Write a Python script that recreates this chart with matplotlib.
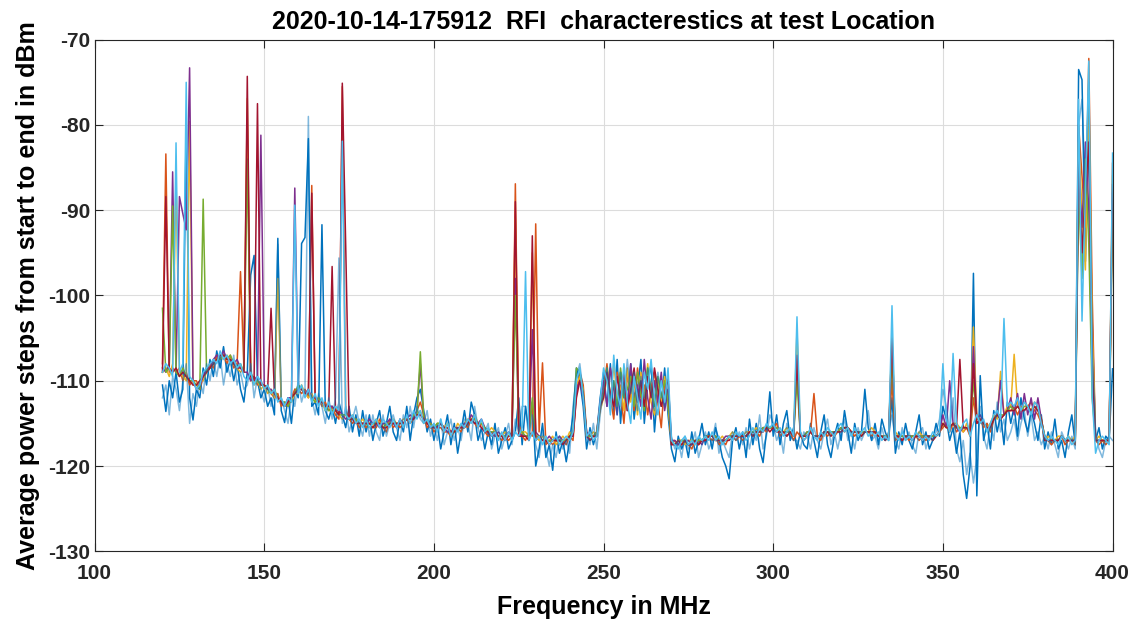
#!/usr/bin/env python3

import numpy as np
import matplotlib
matplotlib.use('Agg')
import matplotlib.pyplot as plt

# one sweep value per MHz, 120 .. 400 MHz
freq_start = 120
freq_stop = 400

sweep_blue = [
    -110.5, -113.6, -110, -112, -109, -112.5, -111, -79.6, -112, -114.6,
    -111, -112, -108.5, -110.5, -107.5, -109.5, -106.5, -108.5, -106, -109,
    -107.5, -110, -108, -111, -112.5, -109, -97.6, -95.3, -110, -112,
    -111, -113, -112, -114, -93.3, -113.5, -114.9, -112, -115, -111,
    -112, -93.9, -93.2, -81.6, -113, -112.5, -114, -91.7, -113.5, -114.5,
    -113, -115, -112.5, -114, -115.5, -113, -116, -114, -116.5, -113.5,
    -116, -114, -117, -115, -113.5, -116.5, -115, -113, -116, -117,
    -114.5, -116, -113, -117, -114, -112, -111, -113.5, -116, -114.5,
    -117, -115, -118, -116, -114, -117.5, -115, -118.5, -116, -113.5,
    -116, -112.5, -114, -117, -115.5, -118, -116, -117.5, -115, -118.5,
    -117, -115.5, -118, -117, -116, -112, -117.5, -113, -116, -112.5,
    -120, -118, -115, -119, -117.5, -120.5, -116, -118.5, -117, -119.5,
    -117, -114, -108.5, -110, -113, -118, -115.5, -117.5, -116, -112,
    -109, -113, -108, -114, -107.5, -115, -110, -113.5, -108, -114.5,
    -111, -107.5, -115, -110.5, -108, -116, -111, -113, -108.5, -114,
    -118, -119.5, -116.5, -118, -117, -119, -116, -118.5, -117, -115,
    -117.5, -116, -118, -115.5, -117, -119, -120, -121.5, -117, -115.5,
    -118, -116, -119, -114.5, -117.5, -115, -118, -119.6, -116, -111.3,
    -116.5, -114, -117.5, -115, -113.5, -117, -115.5, -118, -116, -117.5,
    -118, -115, -117, -119, -116, -114, -117.5, -119, -116.5, -115,
    -117, -113.5, -116, -118.5, -115, -117, -116, -111, -115.5, -117,
    -115, -117.5, -114.5, -116, -117, -112, -118.5, -116, -117.5, -115,
    -117, -118, -116, -114, -117.5, -116, -118, -117, -115, -116.5,
    -113, -114.5, -117, -115.5, -118.5, -116, -121, -123.8, -120, -97.4,
    -123.5, -109.4, -117, -115, -118, -113.5, -116, -114, -117.5, -112.5,
    -115, -113, -116.5, -112, -114.5, -116, -113.5, -115, -117, -114,
    -118, -116, -117.5, -114.5, -118, -117, -119, -116, -114, -117.5,
    -73.5, -74.7, -96, -81, -103, -117, -115.5, -118, -116.5, -117,
    -108.6,
]

sweep_orange = [
    -108, -83.4, -109, -108.5, -109, -108.5, -110, -109, -110.5, -110,
    -110, -111, -109.5, -109, -108, -108.5, -107, -107.5, -107, -108,
    -107, -108.5, -108, -97.2, -108.5, -80, -110, -109.5, -110.5, -110,
    -111, -110.5, -111.5, -112, -111.5, -113, -112.5, -113, -112, -111,
    -111, -111.5, -111, -112, -87.1, -112.5, -112, -113, -112.5, -113.5,
    -113, -114, -114.5, -75.5, -113.5, -114.5, -115, -114.5, -115.5, -115,
    -115.5, -115, -115.5, -115.5, -114.5, -115.5, -116, -114.5, -115.5, -115,
    -115.5, -115, -114.5, -115, -114.5, -113.5, -112.5, -114, -115.5, -115,
    -116, -115.5, -115.5, -116, -116, -116.5, -116, -115.5, -116, -115,
    -115.5, -114.5, -115, -115.5, -115, -116, -116.5, -116, -116.5, -116.5,
    -117, -116.5, -117, -116.5, -86.9, -115, -116.5, -117, -116, -116.5,
    -91.6, -116, -107.9, -117.5, -117, -117.5, -117, -117.5, -117, -117.5,
    -116.5, -117, -111.5, -109, -110.5, -116, -117, -116.5, -116, -113,
    -111, -108, -112, -114.5, -109, -111.5, -115, -109.5, -110, -113.5,
    -108.5, -112, -110.5, -114, -111, -109, -112.5, -115.5, -110, -112,
    -117.5, -117, -117.5, -117.5, -117, -117.5, -118, -117, -117.5, -117,
    -117, -116.5, -117, -116.5, -117.5, -117, -117.5, -116.5, -116.5, -117,
    -116.5, -117, -116.5, -116, -116.5, -116, -116.5, -115.5, -116, -115.5,
    -115.5, -115, -116.5, -116, -116.5, -116, -117, -116, -116.5, -117,
    -116.5, -116, -111.5, -116.5, -117, -116, -116.5, -116, -116.5, -116,
    -115.5, -116, -115.5, -116, -116.5, -116, -116.5, -116, -116, -116.5,
    -116, -116.5, -116.5, -117, -116.5, -110, -117, -116.5, -117, -116.5,
    -117, -116.5, -116.5, -117, -116.5, -117, -116.5, -117, -116.5, -116,
    -115.5, -115, -116, -115, -116, -115.5, -116, -115.5, -116.5, -112,
    -115, -114.5, -115.5, -115, -116, -114.5, -114, -114.5, -114, -113.5,
    -113.5, -113, -114, -113, -113.5, -113, -112.5, -113.5, -114, -115,
    -116.5, -117, -117.5, -117, -117, -116.5, -117.5, -117, -117, -117.5,
    -80, -86, -92, -72.2, -100, -117, -117.5, -117, -117.5, -117,
    -84.5,
]

sweep_yellow = [
    -109, -108.5, -109.5, -108, -86.3, -109, -109.5, -110, -79.6, -110.5,
    -110.5, -110, -110, -109, -108.5, -108, -107.5, -107, -107.5, -107,
    -107.5, -108, -108.5, -109, -108.5, -76.9, -109.5, -110.5, -110, -111,
    -110.5, -111.5, -111, -112, -98, -112.5, -113, -112.5, -112.5, -111.5,
    -111.5, -110.5, -111.5, -112, -111.5, -112.5, -112, -112.5, -113.5, -113,
    -113.5, -113, -114, -114.5, -114, -114.5, -114, -115, -115, -114.5,
    -115, -115, -115.5, -114.5, -115, -115, -115.5, -115, -114.5, -115,
    -115, -114.5, -114.5, -114.5, -114, -114, -113.5, -115, -114.5, -115.5,
    -115.5, -115, -115, -115.5, -115, -116, -116, -115, -115.5, -115,
    -114.5, -114.5, -114, -115, -115, -115.5, -116, -115.5, -116, -116.5,
    -116.5, -116, -116.5, -116, -91, -116.5, -116, -116, -116.5, -95,
    -116.5, -117, -116.5, -117, -117, -116.5, -117.5, -117, -116.5, -117,
    -116, -116.5, -110.5, -109.5, -111, -116.5, -116.5, -116, -116.5, -113.5,
    -112, -109.5, -113, -108, -112, -110.5, -113.5, -108.5, -112.5, -110,
    -114, -109, -112, -108, -112.5, -114, -110, -112.5, -109.5, -113,
    -117, -117.5, -117, -117, -117.5, -117, -117, -117.5, -117, -117,
    -116.5, -116.5, -116.5, -117, -117, -116.5, -117, -116.5, -116, -116.5,
    -116.5, -116.5, -116, -116, -116, -115.5, -116, -115.5, -115.5, -115.5,
    -115.5, -115.5, -116, -116, -115.5, -116, -116.5, -104, -116.5, -116.5,
    -116, -116, -116.5, -116.5, -116.5, -116, -116, -116.5, -116, -116,
    -115.5, -115.5, -115.5, -116, -116, -116, -116.5, -116, -116, -115.5,
    -116, -116.5, -116.5, -116.5, -116.5, -104.4, -116, -116.5, -116.5, -116.5,
    -116.5, -116.5, -116.5, -116, -116.5, -116.5, -116.5, -116.5, -116.5, -116,
    -115, -115, -115.5, -115, -115, -115.5, -116, -115, -116, -103.7,
    -114, -114.5, -115, -115.5, -115, -114, -114.5, -108.9, -114, -113,
    -113, -106.9, -113, -113.5, -112.5, -113, -113.5, -112.5, -113, -114.5,
    -117, -116.5, -117, -117, -116.5, -116.5, -117, -116.5, -117, -116.5,
    -82, -90, -97, -76, -104, -117, -116.5, -117, -117, -117,
    -86,
]

sweep_purple = [
    -108.5, -109, -108, -85.5, -109, -88.4, -90.4, -92.3, -73.3, -110,
    -111, -110.5, -109.5, -108.5, -108.5, -107.5, -107, -107.5, -106.5, -107.5,
    -107.5, -108, -107.5, -108.5, -109, -109, -110, -109.5, -110, -81.2,
    -110.5, -111, -111, -111.5, -112, -112.5, -113, -112, -112, -87.4,
    -110.5, -111, -111.5, -111, -112, -112, -112.5, -112.5, -113, -113,
    -113, -113.5, -113.5, -114, -114.5, -114, -114.5, -114.5, -115, -115,
    -115, -114.5, -115, -115, -115.5, -115, -115, -114.5, -115, -115.5,
    -114.5, -115, -114.5, -114, -114.5, -113.5, -108, -114.5, -115, -115,
    -115.5, -115.5, -115, -115.5, -116, -116, -115.5, -115.5, -115.5, -115,
    -115, -114, -114.5, -115, -114.5, -115.5, -116, -116, -116.5, -116,
    -116.5, -116.5, -116, -116.5, -98, -116, -116.5, -116.5, -116.5, -104,
    -116, -116.5, -117, -117, -116.5, -117, -117, -116.5, -117, -117,
    -116.5, -116.5, -111, -110, -112, -116, -116.5, -116.5, -116, -112.5,
    -110, -113, -108.5, -111, -114, -109, -111.5, -113, -108, -112,
    -110.5, -113, -107.5, -112, -114.5, -110, -112.5, -109, -113.5, -111,
    -117, -117, -117.5, -117, -117, -117, -117.5, -117, -117, -117.5,
    -116.5, -116.5, -116.5, -116.5, -117, -117, -116.5, -116.5, -116.5, -116.5,
    -116.5, -116.5, -116.5, -116, -116, -116, -116, -115.5, -115.5, -115.5,
    -115.5, -115.5, -116, -116, -116, -116, -116.5, -108, -116.5, -116.5,
    -116, -116, -116.5, -116.5, -116.5, -116, -116, -116, -116, -116,
    -115.5, -115.5, -115.5, -116, -116, -116, -116, -116, -116, -116,
    -116, -116.5, -116.5, -116.5, -116.5, -106, -116.5, -116.5, -116.5, -116.5,
    -116.5, -116.5, -116.5, -116.5, -116.5, -116.5, -116.5, -116.5, -116.5, -116,
    -114, -115.5, -110, -115, -115.5, -116, -115.5, -115.5, -116, -106,
    -114.5, -114, -115, -115.5, -115.5, -114.5, -114, -110, -114, -113.5,
    -112, -114, -111.5, -114.5, -111.5, -114, -112, -114.5, -112, -114.5,
    -116.5, -117, -117, -117, -117, -116.5, -117, -117, -117, -117,
    -86, -92, -82, -90, -110, -117, -117, -117, -117, -117,
    -88,
]

sweep_green = [
    -101.5, -109, -108.5, -89.5, -109, -109.5, -108.5, -109.5, -110, -110,
    -110.5, -111, -88.7, -109, -108.5, -108, -107.5, -107.5, -107, -107.5,
    -107, -108, -108.5, -108, -109, -84, -109, -110, -110, -110.5,
    -110.5, -111, -111.5, -111, -112, -112.5, -112.5, -113, -112, -111.5,
    -110.5, -111, -111.5, -111.5, -112, -112.5, -112, -112.5, -113, -113.5,
    -113.5, -113.5, -114, -114, -114, -114.5, -114.5, -114.5, -115, -115,
    -115, -115.5, -115, -115, -115, -115.5, -115, -115, -115, -115,
    -115, -115, -114.5, -114.5, -114, -114, -106.6, -114.5, -115, -115,
    -115.5, -115, -115, -115.5, -115.5, -116, -116, -115.5, -115.5, -115.5,
    -115, -114.5, -114.5, -115, -115, -115.5, -116, -116, -116, -116.5,
    -116.5, -116.5, -116.5, -116.5, -100, -116, -116, -116.5, -116.5, -112,
    -116.5, -116.5, -117, -117, -117, -117, -117, -117, -117, -117,
    -116.5, -116, -108.5, -109, -111.5, -116.5, -116.5, -116.5, -116, -113,
    -111.5, -108.5, -112, -110, -113, -108.5, -112, -111, -109.5, -113,
    -109, -111.5, -113.5, -108.5, -111, -113, -109.5, -112, -110, -112.5,
    -117, -117.5, -117, -117, -117, -117.5, -117, -117, -117, -117,
    -116.5, -116.5, -116.5, -116.5, -117, -117, -117, -116.5, -116.5, -116.5,
    -116.5, -116.5, -116.5, -116, -116, -116, -116, -115.5, -115.5, -115.5,
    -115.5, -115.5, -116, -116, -116, -116, -116.5, -110, -116.5, -116.5,
    -116, -116, -116.5, -116.5, -116.5, -116, -116, -116, -116, -116,
    -115.5, -115.5, -115.5, -116, -116, -116, -116, -116, -116, -116,
    -116, -116.5, -116.5, -116.5, -116.5, -107, -116.5, -116.5, -116.5, -116.5,
    -116.5, -116.5, -116.5, -116.5, -116.5, -116.5, -116.5, -116.5, -116.5, -116,
    -115, -115.5, -115.5, -115, -115.5, -115.5, -115.5, -115.5, -116, -110,
    -114.5, -114.5, -115, -115.5, -115.5, -114.5, -114, -114, -114, -113.5,
    -113, -113.5, -113, -113.5, -113, -113, -113.5, -113, -113.5, -114.5,
    -116.5, -117, -117, -117, -117, -116.5, -117, -117, -117, -117,
    -88, -98, -84, -94, -112, -117, -117, -117, -117, -117,
    -90,
]

sweep_red = [
    -109, -88.4, -108.5, -109, -108.5, -109.5, -109, -109.5, -110, -110.5,
    -110.5, -110, -109.5, -109, -108.5, -108, -107.5, -107, -107, -107.5,
    -107.5, -108, -108.5, -108.5, -109, -74.3, -109.5, -110, -77.5, -110.5,
    -110.5, -111, -101.5, -111.5, -112, -112.5, -113, -112.5, -112, -111.5,
    -111, -111, -111.5, -111.5, -88, -112, -112.5, -112.5, -113, -113,
    -96.6, -113.5, -114, -75.1, -94.1, -114.5, -114.5, -115, -115, -115,
    -115, -115, -115.5, -115, -115, -115.5, -115.5, -115, -115, -115,
    -115, -115, -114.5, -114.5, -114.5, -114, -114, -114.5, -115, -115.5,
    -115.5, -115.5, -115, -115.5, -115.5, -116, -116, -115.5, -115.5, -115.5,
    -115, -114.5, -115, -115, -115.5, -116, -116, -116.5, -116, -116.5,
    -116.5, -117, -116.5, -116.5, -89, -116.5, -116.5, -116.5, -117, -93,
    -117, -116.5, -117, -117, -117.5, -117, -117, -117, -117.5, -117,
    -116.5, -116.5, -112, -110, -111.5, -116.5, -117, -116.5, -116.5, -113,
    -112, -109, -111.5, -113, -109.5, -112, -109, -113.5, -111, -108.5,
    -112.5, -110, -113, -109.5, -112, -108.5, -111, -113, -111.5, -109.5,
    -117.5, -117.5, -117, -117.5, -117, -117.5, -117.5, -117, -117.5, -117,
    -117, -116.5, -116.5, -117, -117, -117, -117, -117, -116.5, -116.5,
    -116.5, -116.5, -116.5, -116, -116.5, -116, -116, -116, -115.5, -116,
    -115.5, -116, -116, -116, -116.5, -116, -116.5, -107, -116.5, -116.5,
    -116.5, -116, -116.5, -116.5, -116.5, -116, -116, -116.5, -116, -116,
    -116, -115.5, -115.5, -116, -116, -116, -116.5, -116, -116, -116,
    -116, -116.5, -116.5, -117, -116.5, -105, -116.5, -116.5, -117, -116.5,
    -116.5, -117, -116.5, -116.5, -117, -116.5, -116.5, -117, -116.5, -116,
    -115, -115.5, -115.5, -115, -115.5, -107.5, -115.5, -115.5, -116, -108,
    -115, -114.5, -115, -115.5, -115.5, -114.5, -114, -114.5, -114, -113.5,
    -113.5, -113.5, -113, -113.5, -113.5, -113, -113.5, -113, -113.5, -114.5,
    -117, -117, -117, -117, -117, -116.5, -117, -117, -117, -117,
    -84, -95, -88, -82, -108, -117, -117, -117, -117, -117,
    -87,
]

sweep_pale = [
    -112, -110.5, -114, -109.5, -111, -113.5, -110, -108, -115, -111.5,
    -113, -110, -111.5, -108, -110, -107.5, -109.5, -107, -110.5, -108,
    -109.5, -107, -110.5, -109, -111, -110.5, -108, -112, -109.5, -111,
    -112.5, -110.5, -113, -111.5, -94, -112, -113.5, -115, -112, -113,
    -110, -112.5, -111, -79, -112, -114, -111.5, -113, -115, -112,
    -114.5, -112, -95.6, -115, -113, -116, -114.5, -113, -115, -116.5,
    -114, -116.5, -114, -116, -117, -114, -116.5, -115, -114, -115.5,
    -117, -114, -115.5, -113, -115.5, -113, -114.5, -115, -113.5, -116.5,
    -115, -117, -114.5, -117.5, -116, -114.5, -117, -115.5, -117, -114.5,
    -115, -117, -113, -115.5, -117, -116, -115, -118, -116.5, -115.5,
    -118, -116.5, -115, -117.5, -114.5, -116, -113, -113, -117, -114,
    -117.5, -119, -116, -118, -120, -117.5, -119, -116.5, -118, -117,
    -118.5, -113, -109.5, -108, -111.5, -116, -117.5, -115, -118, -114,
    -111, -108.5, -112.5, -110, -114, -109, -112, -107.5, -111.5, -109,
    -113.5, -109.5, -112, -108.5, -111, -113.5, -109, -111.5, -113, -110,
    -116.5, -118, -117, -119, -116.5, -118, -117.5, -116, -119, -117.5,
    -116, -118, -117, -115, -118.5, -117, -118, -119, -116, -117,
    -116, -117.5, -115.5, -118, -116, -117, -114, -118, -116.5, -114,
    -115, -117, -116, -118.5, -115, -116.5, -117, -117, -118, -116,
    -116.5, -118, -115.5, -117, -118, -116, -114.5, -117.5, -116, -118,
    -116, -114.5, -117, -116, -118, -115.5, -117, -116, -113.5, -117,
    -116.5, -118, -115.5, -117, -116, -114, -117, -118, -115.5, -117,
    -116, -117.5, -118.5, -116, -115.5, -118, -116.5, -117, -116, -114.5,
    -111, -113, -116, -112, -118, -119.5, -117, -121, -118.5, -122,
    -119, -113, -116.5, -118, -115, -117, -112.5, -116, -114.5, -117,
    -116, -114.5, -117, -115, -113.5, -116.5, -114, -117, -116, -117.5,
    -116.5, -118, -116, -117.5, -119, -116, -117, -118, -116.5, -118,
    -80, -77, -88, -75, -106, -116, -118, -119, -117, -116.5,
    -117,
]

sweep_cyan = [
    -109, -108, -108.5, -109.5, -82.1, -109, -108, -75, -109.5, -110,
    -111, -110.5, -109, -108.5, -108, -107.5, -108, -106.5, -107.5, -107,
    -108, -107.5, -108.5, -108, -109.5, -110, -109, -110.5, -109.5, -110,
    -111, -110.5, -111.5, -111, -112.5, -112, -113, -112, -112.5, -89.4,
    -111.5, -110.5, -112, -111, -112.5, -111.5, -113, -112, -113.5, -112.5,
    -114, -113, -113.5, -81.9, -114, -114.5, -114, -115, -114.5, -115.5,
    -114.5, -115.5, -115, -114.5, -115.5, -114.5, -115, -115.5, -114.5, -115.5,
    -114.5, -115.5, -114, -115, -113.5, -114.5, -113.5, -115, -114.5, -115.5,
    -115, -116, -114.5, -116, -115, -116.5, -115.5, -116, -115, -115.5,
    -114.5, -115, -114, -115.5, -114.5, -116, -115.5, -116.5, -116, -117,
    -116, -117, -116, -117, -116, -116.5, -115.5, -97.2, -117, -116,
    -117, -116.5, -117.5, -116.5, -117.5, -117, -116.5, -117.5, -117, -116.5,
    -117, -116, -110, -108.5, -112, -116.5, -116, -117, -116.5, -112.5,
    -108.5, -110, -114, -107, -111.5, -113, -108, -112.5, -115, -109.5,
    -112, -114.5, -109, -111, -107.5, -112, -114, -110, -112.5, -108.5,
    -117, -117.5, -118, -117, -116.5, -117.5, -117, -117.5, -116.5, -117,
    -116.5, -117, -116, -117, -116.5, -117.5, -117, -116.5, -117, -116,
    -116.5, -116, -117, -116.5, -115.5, -116.5, -115.5, -116, -115, -115.5,
    -115, -116, -115.5, -116.5, -116, -115.5, -116.5, -102.5, -116, -117,
    -116.5, -115.5, -116.5, -117, -116, -116.5, -115.5, -116, -116.5, -115.5,
    -115, -116, -115.5, -116.5, -115.5, -116.5, -116, -115.5, -116.5, -116,
    -116.5, -116, -117, -116.5, -117, -101.2, -116.5, -117, -116, -117,
    -116.5, -117, -116, -116.5, -117, -116.5, -117, -116, -116.5, -116,
    -108, -114.5, -116, -106.8, -115, -116, -115, -114.5, -116.5, -115,
    -114, -115, -114.5, -116, -115, -114, -113.5, -114.5, -102.7, -113,
    -112.5, -113, -112, -113.5, -112.5, -113, -114, -112.5, -113, -115,
    -116.5, -117, -116.5, -117, -117.5, -116.5, -117, -116.5, -117.5, -117,
    -77, -103, -88, -72.5, -112, -118.5, -117, -116.5, -117, -117.5,
    -83.3,
]

# MATLAB default line colours, in drawing order
sweeps = [
    (sweep_blue, '#0072BD', 1.0),
    (sweep_orange, '#D95319', 1.0),
    (sweep_yellow, '#EDB120', 1.0),
    (sweep_purple, '#7E2F8E', 1.0),
    (sweep_green, '#77AC30', 1.0),
    (sweep_red, '#A2142F', 1.0),
    (sweep_pale, '#0072BD', 0.5),
    (sweep_cyan, '#4DBEEE', 1.0),
]

plt.rcParams['font.family'] = ['Liberation Sans', 'DejaVu Sans']
plt.rcParams['font.weight'] = 'bold'
plt.rcParams['axes.unicode_minus'] = False

freq = np.arange(freq_start, freq_stop + 1)

fig = plt.figure(figsize=(11.37, 6.23), dpi=100)
ax = fig.add_axes([0.0832, 0.1151, 0.8953, 0.8212])

for values, colour, alpha in sweeps:
    ax.plot(freq, values, color=colour, alpha=alpha, linewidth=1.1)

ax.set_xlim(100, 400)
ax.set_ylim(-130, -70)
ax.set_xticks(np.arange(100, 401, 50))
ax.set_yticks(np.arange(-130, -69, 10))
ax.grid(True, color='#dcdcdc', linewidth=0.8)
ax.set_axisbelow(True)
ax.tick_params(direction='in', length=6, width=0.8, top=True, right=True,
               labelsize=15, colors='#262626')
ax.tick_params(axis='x', pad=9)
ax.tick_params(axis='y', pad=3)
for tick in ax.get_xticklabels() + ax.get_yticklabels():
    tick.set_fontweight('bold')
for spine in ax.spines.values():
    spine.set_color('#262626')
    spine.set_linewidth(0.8)

ax.set_title('2020-10-14-175912  RFI  characterestics at test Location',
             fontsize=18, fontweight='bold', pad=8)
ax.set_xlabel('Frequency in MHz', fontsize=18, fontweight='bold', labelpad=9)
ax.set_ylabel('Average power steps from start to end in dBm', fontsize=18,
              fontweight='bold', labelpad=6)

fig.savefig('out.png', dpi=100)
